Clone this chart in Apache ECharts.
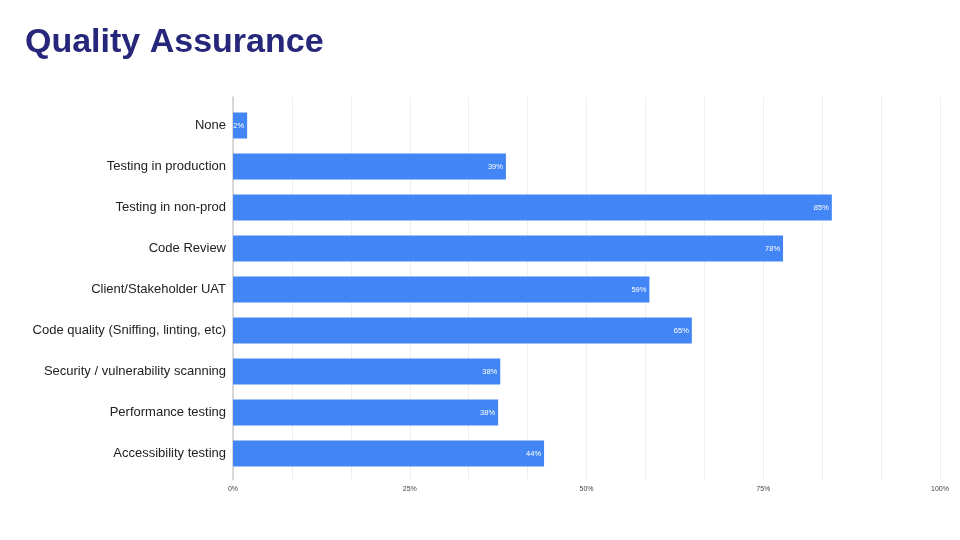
<!DOCTYPE html>
<html>
<head>
<meta charset="utf-8">
<script src="https://cdn.jsdelivr.net/npm/echarts@6/dist/echarts.min.js"></script>
<style>
html,body{margin:0;padding:0;background:#fff;}
#c{width:960px;height:540px;}
</style>
</head>
<body>
<div id="c"></div>
<script>
const categories = [
  "None",
  "Testing in production",
  "Testing in non-prod",
  "Code Review",
  "Client/Stakeholder UAT",
  "Code quality (Sniffing, linting, etc)",
  "Security / vulnerability scanning",
  "Performance testing",
  "Accessibility testing"
];
const values = [2, 38.6, 84.7, 77.8, 58.9, 64.9, 37.8, 37.5, 44];
const tickLabels = ["0%", "25%", "50%", "75%", "100%"];
const labelEvery = 25;
const gridStep = 100 / 12;

const chart = echarts.init(document.getElementById('c'));
const font = "'Liberation Sans', Arial, Helvetica, sans-serif";

chart.setOption({
  backgroundColor: '#ffffff',
  animation: false,
  title: {
    text: 'Quality Assurance',
    left: 20,
    top: 21,
    textStyle: { fontFamily: font, fontWeight: 'bold', fontSize: 34, color: '#26277a' }
  },
  grid: [
    { left: 233, right: 20, top: 97, bottom: 60 },
    { left: 233, right: 20, top: 105, bottom: 66 }
  ],
  xAxis: [
    {
      gridIndex: 0, type: 'value', min: 0, max: 100, interval: gridStep,
      axisLine: { show: false }, axisTick: { show: false },
      splitLine: { show: true, lineStyle: { color: '#efefef', width: 1 } },
      axisLabel: {
        fontFamily: font, fontSize: 7, color: '#444', margin: 6,
        formatter: function (v) {
          const k = Math.round(v / labelEvery);
          if (Math.abs(v - k * labelEvery) < 0.01) return tickLabels[k] || '';
          return '';
        }
      }
    },
    {
      gridIndex: 1, type: 'value', min: 0, max: 100,
      show: false
    }
  ],
  yAxis: [
    {
      gridIndex: 0, type: 'category', data: categories, inverse: true,
      axisLine: { show: true, lineStyle: { color: '#cccccc', width: 1.5 } },
      axisTick: { show: false }, axisLabel: { show: false }, splitLine: { show: false }
    },
    {
      gridIndex: 1, type: 'category', data: categories, inverse: true,
      axisLine: { show: false }, axisTick: { show: false }, splitLine: { show: false },
      axisLabel: { fontFamily: font, fontSize: 13, color: '#222', margin: 7 }
    }
  ],
  series: [{
    type: 'bar',
    xAxisIndex: 1, yAxisIndex: 1,
    data: values,
    barWidth: 26,
    itemStyle: { color: '#4285f4' },
    label: {
      show: true, position: 'insideRight', distance: 3,
      color: '#ffffff', fontFamily: font, fontSize: 7.5,
      formatter: function (p) { return Math.round(p.value) + '%'; }
    }
  }]
});
</script>
</body>
</html>
